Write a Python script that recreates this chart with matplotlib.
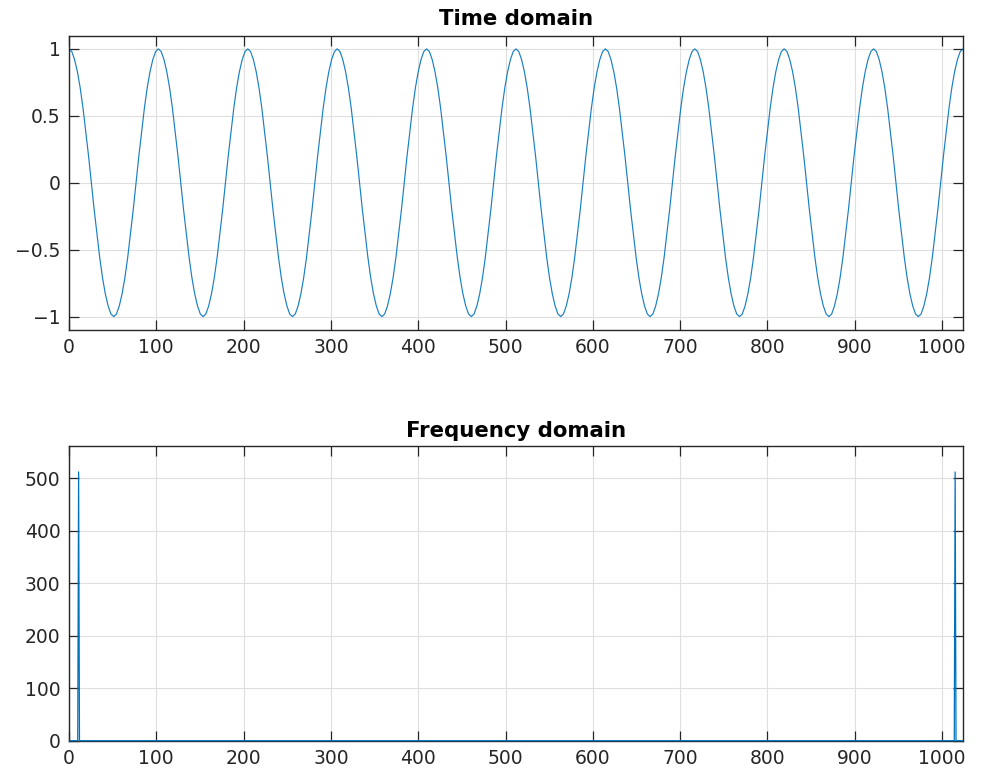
import numpy as np
import matplotlib
matplotlib.use("Agg")
import matplotlib.pyplot as plt

# ---- data ----
# time-domain samples (32 per period, evenly spaced over 0..1024)
time_values = [
    1, 0.98, 0.92, 0.83, 0.71, 0.56, 0.38, 0.2, 0, -0.2, -0.38, -0.56, -0.71, -0.83, -0.92, -0.98,
    -1, -0.98, -0.92, -0.83, -0.71, -0.56, -0.38, -0.2, 0, 0.2, 0.38, 0.56, 0.71, 0.83, 0.92, 0.98,
    1, 0.98, 0.92, 0.83, 0.71, 0.56, 0.38, 0.2, 0, -0.2, -0.38, -0.56, -0.71, -0.83, -0.92, -0.98,
    -1, -0.98, -0.92, -0.83, -0.71, -0.56, -0.38, -0.2, 0, 0.2, 0.38, 0.56, 0.71, 0.83, 0.92, 0.98,
    1, 0.98, 0.92, 0.83, 0.71, 0.56, 0.38, 0.2, 0, -0.2, -0.38, -0.56, -0.71, -0.83, -0.92, -0.98,
    -1, -0.98, -0.92, -0.83, -0.71, -0.56, -0.38, -0.2, 0, 0.2, 0.38, 0.56, 0.71, 0.83, 0.92, 0.98,
    1, 0.98, 0.92, 0.83, 0.71, 0.56, 0.38, 0.2, 0, -0.2, -0.38, -0.56, -0.71, -0.83, -0.92, -0.98,
    -1, -0.98, -0.92, -0.83, -0.71, -0.56, -0.38, -0.2, 0, 0.2, 0.38, 0.56, 0.71, 0.83, 0.92, 0.98,
    1, 0.98, 0.92, 0.83, 0.71, 0.56, 0.38, 0.2, 0, -0.2, -0.38, -0.56, -0.71, -0.83, -0.92, -0.98,
    -1, -0.98, -0.92, -0.83, -0.71, -0.56, -0.38, -0.2, 0, 0.2, 0.38, 0.56, 0.71, 0.83, 0.92, 0.98,
    1, 0.98, 0.92, 0.83, 0.71, 0.56, 0.38, 0.2, 0, -0.2, -0.38, -0.56, -0.71, -0.83, -0.92, -0.98,
    -1, -0.98, -0.92, -0.83, -0.71, -0.56, -0.38, -0.2, 0, 0.2, 0.38, 0.56, 0.71, 0.83, 0.92, 0.98,
    1, 0.98, 0.92, 0.83, 0.71, 0.56, 0.38, 0.2, 0, -0.2, -0.38, -0.56, -0.71, -0.83, -0.92, -0.98,
    -1, -0.98, -0.92, -0.83, -0.71, -0.56, -0.38, -0.2, 0, 0.2, 0.38, 0.56, 0.71, 0.83, 0.92, 0.98,
    1, 0.98, 0.92, 0.83, 0.71, 0.56, 0.38, 0.2, 0, -0.2, -0.38, -0.56, -0.71, -0.83, -0.92, -0.98,
    -1, -0.98, -0.92, -0.83, -0.71, -0.56, -0.38, -0.2, 0, 0.2, 0.38, 0.56, 0.71, 0.83, 0.92, 0.98,
    1, 0.98, 0.92, 0.83, 0.71, 0.56, 0.38, 0.2, 0, -0.2, -0.38, -0.56, -0.71, -0.83, -0.92, -0.98,
    -1, -0.98, -0.92, -0.83, -0.71, -0.56, -0.38, -0.2, 0, 0.2, 0.38, 0.56, 0.71, 0.83, 0.92, 0.98,
    1, 0.98, 0.92, 0.83, 0.71, 0.56, 0.38, 0.2, 0, -0.2, -0.38, -0.56, -0.71, -0.83, -0.92, -0.98,
    -1, -0.98, -0.92, -0.83, -0.71, -0.56, -0.38, -0.2, 0, 0.2, 0.38, 0.56, 0.71, 0.83, 0.92, 0.98,
    1,
]
time_start, time_end = 0, 1024

n_bins = 1024
peak_bins = [11, 1015]
peak_mags = [512, 512]

x_ticks = [0, 100, 200, 300, 400, 500, 600, 700, 800, 900, 1000]
top_yticks = [-1, -0.5, 0, 0.5, 1]
top_ylabels = ["\u22121", "\u22120.5", "0", "0.5", "1"]
bot_yticks = [0, 100, 200, 300, 400, 500]

titles = ["Time domain", "Frequency domain"]

# ---- build series ----
t = np.linspace(time_start, time_end, len(time_values))
freq_x = np.arange(1, n_bins + 1)
spectrum = np.zeros(n_bins)
spectrum[np.array(peak_bins) - 1] = peak_mags

# ---- style ----
line_color = "#0072BD"
axis_color = "#262626"
grid_color = "#dfdfdf"
plt.rcParams["font.family"] = ["DejaVu Sans"]

fig = plt.figure(figsize=(9.84, 7.71), dpi=100)
ax1 = fig.add_axes([69 / 984, 1 - 330 / 771, 894 / 984, 294.5 / 771])
ax2 = fig.add_axes([69 / 984, 1 - 740.7 / 771, 894 / 984, 295 / 771])

def style(ax):
    for s in ax.spines.values():
        s.set_color(axis_color)
        s.set_linewidth(1.0)
    ax.tick_params(direction="in", length=7, width=0.9, color=axis_color,
                   labelcolor=axis_color, labelsize=13.5, top=True, right=True,
                   pad=6)
    ax.grid(True, color=grid_color, linewidth=0.8)
    ax.set_axisbelow(True)
    ax.set_xlim(0, 1024)
    ax.set_xticks(x_ticks)

ax1.plot(t, time_values, color=line_color, linewidth=0.85, alpha=0.9)
style(ax1)
ax1.set_ylim(-1.1, 1.1)
ax1.set_yticks(top_yticks)
ax1.set_yticklabels(top_ylabels)
ax1.set_title(titles[0], fontsize=15.3, fontweight="bold", color="black", pad=7.5)

ax2.plot(freq_x, spectrum, color=line_color, linewidth=0.9, clip_on=False, zorder=3)
style(ax2)
ax2.set_ylim(0, 562)
ax2.set_yticks(bot_yticks)
ax2.set_title(titles[1], fontsize=15.3, fontweight="bold", color="black", pad=6.5)

fig.savefig("out.png", dpi=100)
